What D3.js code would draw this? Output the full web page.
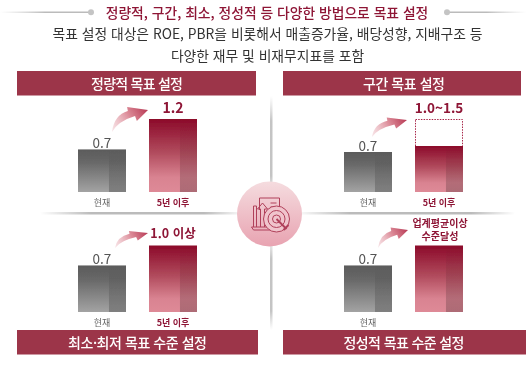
<!DOCTYPE html>
<html lang="ko"><head><meta charset="utf-8">
<script src="https://cdn.jsdelivr.net/npm/d3@7"></script>
<style>html,body{margin:0;padding:0;background:#fff}svg{display:block}
text{font-family:"Noto Sans CJK KR","Noto Sans",sans-serif}</style></head><body><div id="c"></div>
<script>
// ---- data ----
const titleText = "정량적, 구간, 최소, 정성적 등 다양한 방법으로 목표 설정";
const subLines = ["목표 설정 대상은 ROE, PBR을 비롯해서 매출증가율, 배당성향, 지배구조 등", "다양한 재무 및 비재무지표를 포함"];
const panelTitles = ["정량적 목표 설정", "구간 목표 설정", "최소·최저 목표 수준 설정", "정성적 목표 수준 설정"];
const categories = ["현재", "5년 이후"];
const currentValues = [0.7, 0.7, 0.7, 0.7];
const targetValues = [1.2, 1.0, 1.0, 1.0];
const targetUpper = [null, 1.5, null, null];
const currentLabels = ["0.7", "0.7", "0.7", "0.7"];
const targetLabels = [["1.2"], ["1.0~1.5"], ["1.0 이상"], ["업계평균이상", "수준달성"]];
const showTargetTick = [true, true, true, false];

// ---- layout ----
const W = 526, H = 370;
const panels = [
  {hx:17, hw:239, hy:71, tc:137, tw:92,  x0:78, base:192, dom:[0,1.2], rng:[0,73], a:[112,132,148,110], fs:14, gap:6.5},
  {hx:283,hw:238, hy:71, tc:404, tw:82,  x0:344,base:192, dom:[0,0.7,1,1.5], rng:[0,40,46,73], a:[372,137,407,120], fs:13.5, gap:6.5},
  {hx:17, hw:241, hy:330,tc:137.5,tw:139,x0:78, base:312, dom:[0,1], rng:[0,66.5], a:[115,248,148,233], fs:12.5, gap:7.5},
  {hx:283,hw:243, hy:330,tc:404, tw:121, x0:344,base:312, dom:[0,1], rng:[0,66.5], a:[378,248,408,230], fs:10, gap:5.5}
];
const crimson = "#8e1436", header = "#9c3548";

const svg = d3.select("#c").append("svg").attr("width",W).attr("height",H).attr("viewBox",`0 0 ${W} ${H}`);
const defs = svg.append("defs");
defs.append("filter").attr("id","soft").attr("x",0).attr("y",0).attr("width","100%").attr("height","100%")
  .append("feGaussianBlur").attr("stdDeviation",0.45);
function vgrad(id, stops, horiz){
  const g = defs.append("linearGradient").attr("id",id).attr("x1",0).attr("y1",0).attr("x2",horiz?1:0).attr("y2",horiz?0:1);
  stops.forEach(s=>g.append("stop").attr("offset",s[0]).attr("stop-color",s[1]).attr("stop-opacity",s[2]===undefined?1:s[2]));
}
vgrad("gGray",[[0,"#5b5b5b"],[0.3,"#686868"],[1,"#a3a3a3"]]);
vgrad("gRed",[[0,"#8c0a2a"],[0.45,"#b04a5c"],[0.8,"#d98391"],[1,"#de8a97"]]);
vgrad("gShade",[[0,"#000",0],[0.3,"#000",0.06],[1,"#000",0.22]]);
vgrad("gHL",[[0,"#bbb",0],[0.25,"#bbb",1],[0.8,"#bbb",1],[1,"#bbb",0]],true);
vgrad("gVL",[[0,"#ccc",0],[0.25,"#c4c4c4",1],[0.8,"#c4c4c4",1],[1,"#ccc",0]]);
vgrad("gTL",[[0,"#ccc",0],[0.5,"#bbb",1],[1,"#bbb",1]],true);
vgrad("gTR",[[0,"#bbb",1],[0.5,"#bbb",1],[1,"#ccc",0]],true);
vgrad("gCircle",[[0,"#f5dcdf"],[1,"#e8a3b1"]]);

const root = svg.append("g").attr("filter","url(#soft)");
root.append("rect").attr("width",W).attr("height",H).attr("fill","#fff");

// title rules
root.append("rect").attr("x",0).attr("y",11.5).attr("width",90).attr("height",1.5).attr("fill","url(#gTL)");
root.append("rect").attr("x",447).attr("y",11.5).attr("width",79).attr("height",1.5).attr("fill","url(#gTR)");
root.selectAll("circle.dot").data([91,447]).join("circle").attr("cx",d=>d).attr("cy",12.3).attr("r",3).attr("fill","#c4c4c4");

root.append("text").attr("x",267).attr("y",17.5).attr("text-anchor","middle").attr("font-size",13.8)
  .attr("font-weight",500).attr("fill",crimson).text(titleText);
root.selectAll("text.sub").data(subLines).join("text").attr("class","sub").attr("x",267.5).attr("y",(d,i)=>38.5+i*22)
  .attr("text-anchor","middle").attr("font-size",13.8).attr("fill","#333").text(d=>d);

// cross dividers
root.append("rect").attr("x",40).attr("y",212).attr("width",205).attr("height",2.5).attr("fill","url(#gHL)");
root.append("rect").attr("x",295).attr("y",212).attr("width",220).attr("height",2.5).attr("fill","url(#gHL)");
root.append("rect").attr("x",270).attr("y",96).attr("width",2.5).attr("height",100).attr("fill","url(#gVL)");
root.append("rect").attr("x",270).attr("y",235).attr("width",2.5).attr("height",95).attr("fill","url(#gVL)");

panels.forEach((p,i)=>{
  const g = root.append("g");
  g.append("rect").attr("x",p.hx).attr("y",p.hy).attr("width",p.hw).attr("height",24.5).attr("fill",header);
  g.append("text").attr("x",p.tc).attr("y",p.hy+17.5).attr("text-anchor","middle")
    .attr("font-size",14).attr("font-weight",500).attr("fill","#fff")
    .attr("textLength",p.tw).attr("lengthAdjust","spacing").text(panelTitles[i]);

  const x = d3.scaleBand().domain(categories).range([p.x0,p.x0+119]).paddingInner(23/71).paddingOuter(0);
  const h = d3.scaleLinear().domain(p.dom).range(p.rng);
  const y = v => p.base - h(v);
  const bw = x.bandwidth();
  const rows = [
    {c:categories[0], v:currentValues[i], fill:"url(#gGray)"},
    {c:categories[1], v:targetValues[i], fill:"url(#gRed)"}
  ];
  if(targetUpper[i]!==null){
    g.append("rect").attr("x",x(categories[1])+.5).attr("y",y(targetUpper[i])+.5).attr("width",bw-1)
      .attr("height",y(targetValues[i])-y(targetUpper[i])).attr("fill","#fff")
      .attr("stroke","#a8284a").attr("stroke-width",1).attr("stroke-dasharray","1.5 1.2");
  }
  const bars = g.selectAll("g.bar").data(rows).join("g");
  bars.append("rect").attr("x",d=>x(d.c)).attr("y",d=>y(d.v)).attr("width",bw).attr("height",d=>p.base-y(d.v)).attr("fill",d=>d.fill);
  bars.append("rect").attr("x",d=>x(d.c)+bw*0.645).attr("y",d=>y(d.v)).attr("width",bw*0.355).attr("height",d=>p.base-y(d.v)).attr("fill","url(#gShade)");

  // value labels
  g.append("text").attr("x",x(categories[0])+bw/2).attr("y",y(currentValues[i])-1.5).attr("text-anchor","middle")
    .attr("font-size",13.5).attr("fill","#555").text(currentLabels[i]);
  const topV = targetUpper[i]!==null?targetUpper[i]:targetValues[i];
  const tl = targetLabels[i];
  const multi = tl.length>1;
  g.selectAll("text.tv").data(tl).join("text").attr("class","tv")
    .attr("x",x(categories[1])+bw/2+(multi?1:0)).attr("y",(d,k)=> y(topV)-p.gap-(tl.length-1-k)*13.5)
    .attr("text-anchor","middle").attr("font-size",p.fs).attr("font-weight",700).attr("fill",crimson).text(d=>d);

  // axis labels
  const ax = d3.axisBottom(x).tickSize(0).tickPadding(0).tickFormat((d,k)=>k===1&&!showTargetTick[i]?"":d);
  const axis = g.append("g").attr("transform",`translate(0,${p.base+5.5})`).call(ax);
  axis.select(".domain").remove();
  axis.selectAll("text").attr("font-size",9).attr("font-family",'"Noto Sans CJK KR",sans-serif')
    .attr("dy","0.9em").attr("fill",(d,k)=>k?crimson:"#666").attr("font-weight",(d,k)=>k?700:400);

  // rising arrow
  const [sx,sy,tx,ty] = p.a;
  const dx=tx-sx, dy=ty-sy;
  const P=(fx,fy)=>[sx+dx*fx, sy+dy*fy];
  const id="gA"+i;
  const lg=defs.append("linearGradient").attr("id",id).attr("gradientUnits","userSpaceOnUse").attr("x1",sx).attr("y1",sy).attr("x2",tx).attr("y2",ty);
  lg.append("stop").attr("offset",0).attr("stop-color","#efc6cc").attr("stop-opacity",0.45);
  lg.append("stop").attr("offset",0.55).attr("stop-color","#dc8b98");
  lg.append("stop").attr("offset",1).attr("stop-color","#b83a55");
  const ap=d3.path();
  ap.moveTo(sx,sy);
  ap.quadraticCurveTo(...P(.17,.5),...P(.64,.73));
  ap.lineTo(...P(.69,.5));
  ap.lineTo(tx,ty);
  ap.lineTo(...P(.42,1.14));
  ap.lineTo(...P(.44,.95));
  ap.quadraticCurveTo(...P(.06,.77),sx,sy);
  ap.closePath();
  g.append("path").attr("d",ap.toString()).attr("fill",`url(#${id})`);
});

// centre badge
const cx=269.5, cy=214;
root.append("circle").attr("cx",cx).attr("cy",cy).attr("r",32.5).attr("fill","url(#gCircle)");
const ic=root.append("g").attr("fill","none").attr("stroke","#b0405a").attr("stroke-width",1);
ic.append("path").attr("d",d3.line()([[cx-10,cy-4],[cx-10,cy-16],[cx+10,cy-16],[cx+10,cy-7]]));
ic.append("path").attr("d",d3.line()([[cx+1,cy-11],[cx+7,cy-11]]));
ic.append("path").attr("d",d3.line()([[cx+1,cy-7],[cx+5,cy-7]]));
ic.append("path").attr("d",d3.line()([[cx-16,cy+13],[cx-16,cy-8],[cx-13,cy-8],[cx-13,cy+13]]));
ic.append("path").attr("d",d3.line()([[cx-9,cy+13],[cx-9,cy-5],[cx-12,cy-5],[cx-7,cy-11],[cx-2,cy-5],[cx-5,cy-5],[cx-5,cy+13]]));
ic.append("path").attr("d",d3.line()([[cx-18,cy+13],[cx-2,cy+13],[cx+3,cy+16],[cx-16,cy+16],[cx-18,cy+13]]));
ic.selectAll("circle").data([13,8.5,4]).join("circle").attr("cx",cx+7).attr("cy",cy+5).attr("r",d=>d).attr("fill",(d,i)=>i?"none":"#f0c4cc");
ic.append("path").attr("d",d3.line()([[cx+7,cy+5],[cx+17,cy+15]])).attr("stroke-width",2);
ic.append("path").attr("d",d3.line()([[cx+14,cy+16],[cx+19,cy+11]])).attr("stroke-width",2);
</script></body></html>
